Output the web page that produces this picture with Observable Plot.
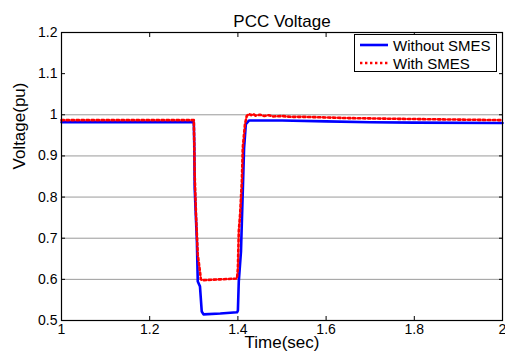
<!DOCTYPE html>
<html>
<head>
<meta charset="utf-8">
<script src="https://cdn.jsdelivr.net/npm/d3@7"></script>
<script src="https://cdn.jsdelivr.net/npm/@observablehq/plot@0.6"></script>
<style>
  body { margin: 0; background: #fff; }
  #chart { position: relative; width: 505px; height: 363px; font-family: "Liberation Sans", Arial, sans-serif; }
  #chart svg { display: block; }
  .legend {
    position: absolute; left: 354px; top: 34px; width: 143px; height: 38px;
    border: 1px solid #000; background: #fff; box-sizing: border-box;
    font-size: 15px; color: #000;
  }
  .legend .row { position: absolute; left: 0; height: 18px; display: flex; align-items: center; }
  .legend .row svg { margin-left: 5px; margin-right: 5px; }
</style>
</head>
<body>
<div id="chart"></div>
<script>
// Time axis (s) and PCC voltage (pu) for the two cases
const timeWithout = [1.000, 1.300, 1.301, 1.302, 1.307, 1.309, 1.314, 1.318, 1.322, 1.360, 1.398, 1.400, 1.402, 1.407, 1.409, 1.414, 1.418, 1.425, 1.500, 1.600, 1.700, 1.800, 2.000];
const voltageWithout = [0.982, 0.982, 0.929, 0.822, 0.693, 0.595, 0.583, 0.522, 0.515, 0.517, 0.520, 0.524, 0.595, 0.668, 0.741, 0.919, 0.977, 0.986, 0.986, 0.984, 0.982, 0.981, 0.980];

const timeWith = [1.000, 1.300, 1.301, 1.302, 1.305, 1.309, 1.314, 1.316, 1.320, 1.360, 1.398, 1.400, 1.402, 1.405, 1.409, 1.411, 1.416, 1.420, 1.425, 1.430, 1.435, 1.440, 1.450, 1.460, 1.470, 1.480, 1.500, 1.520, 1.550, 1.650, 1.770, 2.000];
const voltageWith = [0.987, 0.987, 0.935, 0.855, 0.758, 0.660, 0.619, 0.600, 0.598, 0.600, 0.602, 0.627, 0.717, 0.758, 0.839, 0.919, 0.977, 0.997, 1.002, 0.999, 1.002, 0.998, 1.000, 0.997, 0.999, 0.996, 0.997, 0.995, 0.995, 0.992, 0.990, 0.987];

const seriesNames = ["Without SMES", "With SMES"];
const xTicks = [1, 1.2, 1.4, 1.6, 1.8, 2];
const yTicks = [0.5, 0.6, 0.7, 0.8, 0.9, 1, 1.1, 1.2];
const gridLevels = [0.6, 0.7, 0.8, 0.9, 1];

const without = timeWithout.map((t, i) => ({t, v: voltageWithout[i]}));
const withSmes = timeWith.map((t, i) => ({t, v: voltageWith[i]}));

const font = '"Liberation Sans", Arial, sans-serif';

const plot = Plot.plot({
  width: 505,
  height: 363,
  marginLeft: 61,
  marginRight: 3,
  marginTop: 32,
  marginBottom: 43,
  style: {fontFamily: font, background: "#fff", overflow: "visible"},
  x: {domain: [1, 2]},
  y: {domain: [0.5, 1.2]},
  marks: [
    Plot.ruleY(gridLevels, {stroke: "#9a9a9a", strokeWidth: 1}),
    // tick labels
    Plot.axisX(xTicks, {anchor: "bottom", tickSize: 0, tickPadding: 4, fontSize: 14, fontFamily: font, tickFormat: d => `${d}`, label: null}),
    Plot.axisY(yTicks, {anchor: "left", tickSize: 0, tickPadding: 4, fontSize: 14, fontFamily: font, tickFormat: d => `${d}`, label: null}),
    // inward ticks on all four sides
    Plot.axisX(xTicks, {anchor: "bottom", tickSize: 4, dy: -4, text: null, label: null}),
    Plot.axisX(xTicks, {anchor: "top", tickSize: 4, dy: 4, text: null, label: null}),
    Plot.axisY(yTicks, {anchor: "left", tickSize: 4, dx: 4, text: null, label: null}),
    Plot.axisY(yTicks, {anchor: "right", tickSize: 4, dx: -4, text: null, label: null}),
    Plot.line(without, {x: "t", y: "v", stroke: "#0000ff", strokeWidth: 2.6}),
    Plot.line(withSmes, {x: "t", y: "v", stroke: "#ff0000", strokeWidth: 2.6, strokeDasharray: "2.4 2.6"}),
    Plot.frame({stroke: "#000", strokeWidth: 1.2}),
    Plot.text(["PCC Voltage"], {frameAnchor: "top", dy: -18, fontSize: 17, fontFamily: font, fill: "#000"}),
    Plot.text(["Time(sec)"], {frameAnchor: "bottom", dy: 27, fontSize: 17, fontFamily: font, fill: "#000"}),
    Plot.text(["Voltage(pu)"], {frameAnchor: "left", dx: -42, dy: -7, rotate: -90, fontSize: 17, fontFamily: font, fill: "#000"})
  ]
});

const chart = document.getElementById("chart");
chart.appendChild(plot);

// legend box drawn over the upper-right corner of the axes
const legend = document.createElement("div");
legend.className = "legend";
const styles = [
  {color: "#0000ff", dash: null},
  {color: "#ff0000", dash: "2.4 2.6"}
];
seriesNames.forEach((name, i) => {
  const row = document.createElement("div");
  row.className = "row";
  row.style.top = (1 + i * 18) + "px";
  const s = d3.create("svg").attr("width", 28).attr("height", 6);
  s.append("line").attr("x1", 0).attr("x2", 28).attr("y1", 3).attr("y2", 3)
    .attr("stroke", styles[i].color).attr("stroke-width", 2.6)
    .attr("stroke-dasharray", styles[i].dash);
  row.appendChild(s.node());
  const label = document.createElement("span");
  label.textContent = name;
  row.appendChild(label);
  legend.appendChild(row);
});
chart.appendChild(legend);
</script>
</body>
</html>
